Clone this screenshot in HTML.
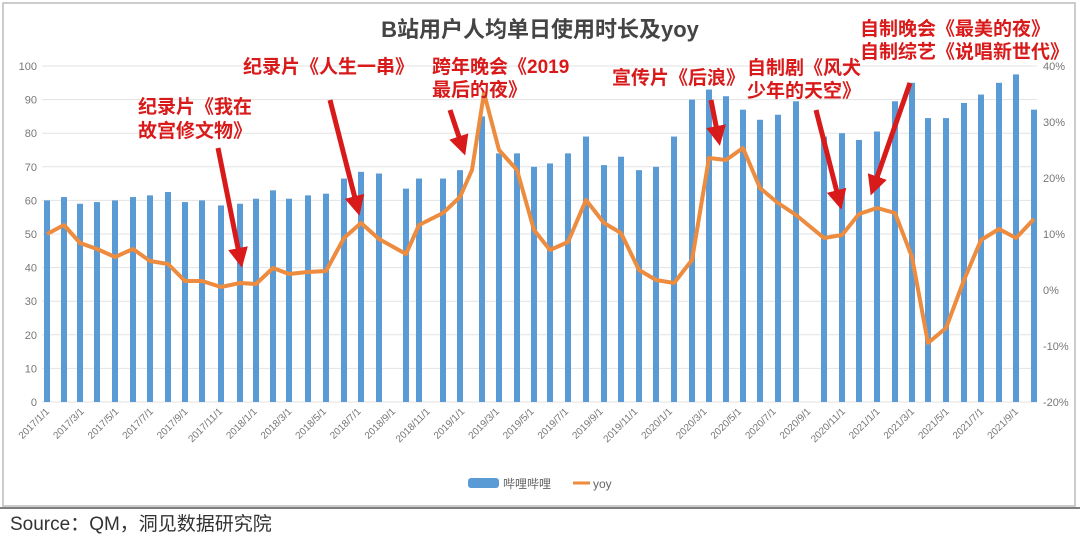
<!DOCTYPE html>
<html><head><meta charset="utf-8"><style>
html,body{margin:0;padding:0;background:#fff;}
svg{display:block;font-family:"Liberation Sans","Noto Sans CJK SC",sans-serif;}
</style></head><body>
<svg width="1080" height="543" viewBox="0 0 1080 543" xmlns="http://www.w3.org/2000/svg">
<defs><marker id="ah" markerWidth="4" markerHeight="4" refX="2" refY="2" orient="auto" markerUnits="strokeWidth"><path d="M0,0 L4,2 L0,4 z" fill="#d91a1a"/></marker></defs>
<rect x="3" y="3" width="1072" height="503" fill="#fff" stroke="#bbb" stroke-width="1.5"/>
<text x="540" y="37" text-anchor="middle" font-size="22" font-weight="bold" fill="#444">B站用户人均单日使用时长及yoy</text>
<g id="grid" stroke="#e3e3e3" stroke-width="1"></g>
<g id="bars" fill="#5b9bd5"></g>
<g id="axl" font-size="11" fill="#777"></g>
<polyline id="yoy" fill="none" stroke="#ed8b3e" stroke-width="4" stroke-linejoin="round"/>
<g id="xl" font-size="10" fill="#777"></g>
<g fill="#d91a1a" font-size="19" font-weight="bold">
<text x="138" y="113">纪录片《我在</text><text x="138" y="137">故宫修文物》</text>
<text x="243" y="73">纪录片《人生一串》</text>
<text x="432" y="73">跨年晚会《2019</text><text x="432" y="96">最后的夜》</text>
<text x="612" y="84">宣传片《后浪》</text>
<text x="747" y="74">自制剧《风犬</text><text x="747" y="97">少年的天空》</text>
<text x="860" y="35">自制晚会《最美的夜》</text><text x="860" y="58">自制综艺《说唱新世代》</text>
</g>
<g stroke="#d91a1a" stroke-width="5" fill="none" marker-end="url(#ah)">
<line x1="218" y1="148" x2="240" y2="258"/>
<line x1="330" y1="100" x2="357" y2="206"/>
<line x1="450" y1="110" x2="462" y2="146"/>
<line x1="711" y1="100" x2="718" y2="136"/>
<line x1="816" y1="110" x2="839" y2="200"/>
<line x1="910" y1="83" x2="874" y2="186"/>
</g>
<rect x="468" y="478" width="31" height="10" rx="3" fill="#5b9bd5"/>
<text x="503" y="488" font-size="12" fill="#666">哔哩哔哩</text>
<line x1="573" y1="483" x2="590" y2="483" stroke="#ed8b3e" stroke-width="3"/>
<text x="593" y="488" font-size="12" fill="#666">yoy</text>
<line x1="0" y1="508" x2="1080" y2="508" stroke="#555" stroke-width="1.5"/>
<text x="10" y="530" font-size="19" fill="#333">Source：QM，洞见数据研究院</text>
</svg>
<script>
var NS="http://www.w3.org/2000/svg";
function el(t,a,p,txt){var e=document.createElementNS(NS,t);for(var k in a)e.setAttribute(k,a[k]);if(txt!=null)e.textContent=txt;document.getElementById(p).appendChild(e);return e;}
for(var k=0;k<=10;k++){var y=402-33.6*k;el('line',{x1:42,x2:1037,y1:y,y2:y},'grid');
el('text',{x:37,y:y+4,'text-anchor':'end'},'axl',String(k*10));}
for(var k=0;k<=6;k++){var y=402-56*k;el('text',{x:1043,y:y+4},'axl',(k*10-20)+'%');}
var B=[[47,60],[64,61],[80,59],[97,59.5],[115,60],[133,61],[150,61.5],[168,62.5],[185,59.5],[202,60],[221,58.5],[240,59],[256,60.5],[273,63],[289,60.5],[308,61.5],[326,62],[344,66.5],[361,68.5],[379,68],[406,63.5],[419,66.5],[443,66.5],[460,69],[482,85],[499,74],[517,74],[534,70],[550,71],[568,74],[586,79],[604,70.5],[621,73],[639,69],[656,70],[674,79],[692,90],[709,93],[726,91],[743,87],[760,84],[778,85.5],[796,89.5],[824,79],[842,80],[859,78],[877,80.5],[895,89.5],[912,95],[928,84.5],[946,84.5],[964,89],[981,91.5],[999,95],[1016,97.5],[1034,87]];
B.forEach(function(b){var h=b[1]*3.36;el('rect',{x:b[0]-3,y:402-h,width:6,height:h},'bars');});
var L=[[47,234],[64,225],[80,243],[97,249],[115,257],[133,249],[150,261],[168,264],[185,281],[202,281],[221,287],[240,283],[256,284],[273,268],[289,274],[308,272],[326,271],[344,238],[361,223],[379,239],[406,254],[419,225],[443,213],[460,197],[472,170],[484,93],[499,150],[517,170],[534,230],[550,250],[568,242],[586,200],[604,223],[621,233],[639,270],[656,280],[674,283],[692,260],[709,158],[726,160],[743,148],[760,188],[778,203],[796,215],[824,238],[842,235],[859,214],[877,208],[895,213],[912,257],[928,343],[946,328],[964,280],[981,240],[999,229],[1016,238],[1034,219]];
document.getElementById('yoy').setAttribute('points',L.map(function(p){return p.join(',')}).join(' '));
for(var k=0;k<29;k++){var m=k*2,yr=2017+Math.floor(m/12),mo=m%12+1;var x=47+34.6*k;
el('text',{x:x+3,y:412,'text-anchor':'end',transform:'rotate(-45 '+(x+3)+' 412)'},'xl',yr+'/'+mo+'/1');}
</script>
</body></html>
